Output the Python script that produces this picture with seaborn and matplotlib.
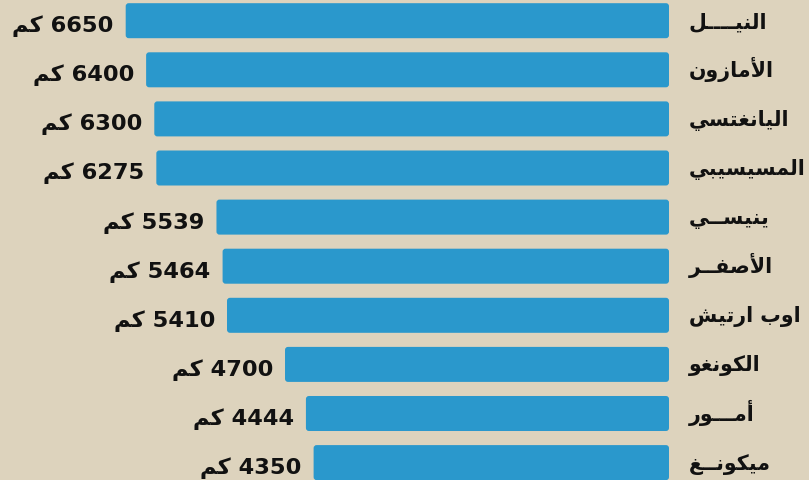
import matplotlib
matplotlib.use("Agg")
import matplotlib.pyplot as plt
from matplotlib.patches import FancyBboxPatch
import seaborn as sns
import pandas as pd

rivers = ["النيــــل", "الأمازون", "اليانغتسي", "المسيسيبي", "ينيســي",
          "الأصفــر", "اوب ارتيش", "الكونغو", "أمـــور", "ميكونــغ"]
lengths = [6650, 6400, 6300, 6275, 5539, 5464, 5410, 4700, 4444, 4350]
unit = "كم"

BG = "#ddd3bd"
BAR = "#2a98cc"

# ---- minimal Arabic shaping (presentation forms + visual order) ----
FORMS = {
    "ا": ("\uFE8D", "\uFE8E", None, None), "أ": ("\uFE83", "\uFE84", None, None),
    "إ": ("\uFE87", "\uFE88", None, None), "آ": ("\uFE81", "\uFE82", None, None),
    "ب": ("\uFE8F", "\uFE90", "\uFE91", "\uFE92"), "ت": ("\uFE95", "\uFE96", "\uFE97", "\uFE98"),
    "ث": ("\uFE99", "\uFE9A", "\uFE9B", "\uFE9C"), "ج": ("\uFE9D", "\uFE9E", "\uFE9F", "\uFEA0"),
    "ح": ("\uFEA1", "\uFEA2", "\uFEA3", "\uFEA4"), "خ": ("\uFEA5", "\uFEA6", "\uFEA7", "\uFEA8"),
    "د": ("\uFEA9", "\uFEAA", None, None), "ذ": ("\uFEAB", "\uFEAC", None, None),
    "ر": ("\uFEAD", "\uFEAE", None, None), "ز": ("\uFEAF", "\uFEB0", None, None),
    "س": ("\uFEB1", "\uFEB2", "\uFEB3", "\uFEB4"), "ش": ("\uFEB5", "\uFEB6", "\uFEB7", "\uFEB8"),
    "ص": ("\uFEB9", "\uFEBA", "\uFEBB", "\uFEBC"), "ض": ("\uFEBD", "\uFEBE", "\uFEBF", "\uFEC0"),
    "ط": ("\uFEC1", "\uFEC2", "\uFEC3", "\uFEC4"), "ظ": ("\uFEC5", "\uFEC6", "\uFEC7", "\uFEC8"),
    "ع": ("\uFEC9", "\uFECA", "\uFECB", "\uFECC"), "غ": ("\uFECD", "\uFECE", "\uFECF", "\uFED0"),
    "ف": ("\uFED1", "\uFED2", "\uFED3", "\uFED4"), "ق": ("\uFED5", "\uFED6", "\uFED7", "\uFED8"),
    "ك": ("\uFED9", "\uFEDA", "\uFEDB", "\uFEDC"), "ل": ("\uFEDD", "\uFEDE", "\uFEDF", "\uFEE0"),
    "م": ("\uFEE1", "\uFEE2", "\uFEE3", "\uFEE4"), "ن": ("\uFEE5", "\uFEE6", "\uFEE7", "\uFEE8"),
    "ه": ("\uFEE9", "\uFEEA", "\uFEEB", "\uFEEC"), "و": ("\uFEED", "\uFEEE", None, None),
    "ي": ("\uFEF1", "\uFEF2", "\uFEF3", "\uFEF4"), "ى": ("\uFEEF", "\uFEF0", None, None),
    "ة": ("\uFE93", "\uFE94", None, None),
    "\uFEFB": ("\uFEFB", "\uFEFC", None, None), "\uFEF7": ("\uFEF7", "\uFEF8", None, None),
}
TATWEEL = "\u0640"


def dual(c):
    return c == TATWEEL or (c in FORMS and FORMS[c][2] is not None)


def joinable(c):
    return c == TATWEEL or c in FORMS


def shape(text):
    s = text.replace("لا", "\uFEFB").replace("لأ", "\uFEF7")
    out = []
    for i, c in enumerate(s):
        if c not in FORMS:
            out.append(c)
            continue
        prev = s[i - 1] if i > 0 else ""
        nxt = s[i + 1] if i + 1 < len(s) else ""
        jp = bool(prev) and dual(prev)
        jn = dual(c) and bool(nxt) and joinable(nxt)
        iso, fin, ini, med = FORMS[c]
        if jp and jn:
            out.append(med)
        elif jp:
            out.append(fin)
        elif jn:
            out.append(ini)
        else:
            out.append(iso)
    return "".join(out)[::-1]


df = pd.DataFrame({"river": rivers, "length": lengths})

fig = plt.figure(figsize=(8.09, 4.81), dpi=100, facecolor=BG)
ax = fig.add_axes([0, 0, 1, 1])
ax.set_facecolor(BG)

sns.barplot(data=df, y="river", x="length", orient="h", color=BAR,
            width=0.713, ax=ax, saturation=1)

px_x = 0.0817          # pixels per km
px_y = 49.1            # pixels per category
zero_px = 669
ax.set_xlim(zero_px / px_x, (zero_px - 809) / px_x)
ax.set_ylim((481 - 21.7) / px_y, -21.7 / px_y)

# rounded bars
rx = 3 / px_x
aspect = (1 / px_y) / (1 / px_x)
for p in list(ax.patches):
    x, y, w, h = p.get_x(), p.get_y(), p.get_width(), p.get_height()
    p.set_visible(False)
    ax.add_patch(FancyBboxPatch((x, y), w, h,
                                boxstyle=f"round,pad=0,rounding_size={rx}",
                                mutation_aspect=aspect, fc=BAR, ec="none"))

font = ["DejaVu Sans"]
for i, (r, v) in enumerate(zip(rivers, lengths)):
    ax.text((zero_px - 689) / px_x, i + 6 / px_y, shape(r), ha="left", va="baseline",
            fontsize=14.8, fontweight="bold", family=font, color="#111111")
    ax.text(v + 12 / px_x, i + 10.5 / px_y, shape(unit) + " " + str(v), ha="right",
            va="baseline", fontsize=16.2, fontweight="bold", family=font, color="#111111")

ax.axis("off")
fig.savefig("out.png", dpi=100, facecolor=BG)
